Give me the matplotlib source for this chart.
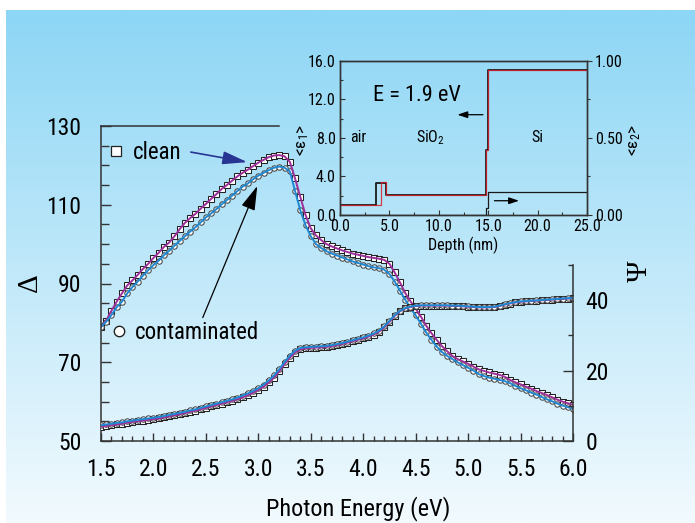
import numpy as np
import matplotlib
matplotlib.use("Agg")
import matplotlib.pyplot as plt
from matplotlib import font_manager
from matplotlib.lines import Line2D
from matplotlib.ticker import MultipleLocator, FixedLocator, FormatStrFormatter

# the original uses a narrow Helvetica; take a condensed face if one is installed
installed = {f.name for f in font_manager.fontManager.ttflist}
narrow = [n for n in ['Liberation Sans Narrow', 'Roboto Condensed', 'DejaVu Sans Condensed',
                      'Arial Narrow', 'Nimbus Sans Narrow'] if n in installed]
condensed_faces = [f.name for f in font_manager.fontManager.ttflist
                   if str(f.stretch) in ('condensed', 'semi-condensed', '62.5', '75', '87.5')]
if narrow:
    plt.rcParams['font.family'] = [narrow[0], 'DejaVu Sans']
    SCALE = 1.0
elif condensed_faces:
    plt.rcParams['font.family'] = [condensed_faces[0], 'DejaVu Sans']
    plt.rcParams['font.stretch'] = 'condensed'
    SCALE = 1.0
else:
    plt.rcParams['font.family'] = ['Roboto', 'Liberation Sans', 'DejaVu Sans']
    SCALE = 0.92
plt.rcParams['mathtext.default'] = 'regular'

# photon energy grid (eV), 0.05 eV steps
energy = np.linspace(1.5, 6.0, 91)

delta_clean = [
    79.0, 80.6, 83.1, 85.4, 87.5, 89.5, 90.8, 92.2, 93.7, 95.0,
    96.5, 97.8, 99.3, 100.4, 102.0, 103.8, 105.4, 106.6, 107.7, 109.0,
    110.2, 111.5, 112.7, 114.0, 115.0, 116.1, 117.2, 118.1, 118.9, 119.8,
    120.7, 121.4, 122.1, 122.5, 122.6, 122.3, 120.9, 116.7, 112.0, 107.4,
    104.0, 102.2, 101.0, 100.0, 99.4, 98.9, 98.4, 98.0, 97.6, 97.3,
    97.0, 96.7, 96.5, 96.3, 96.0, 95.0, 92.8, 90.3, 87.6, 85.5,
    83.6, 81.6, 79.3, 77.4, 75.7, 74.1, 72.8, 71.6, 70.8, 70.2,
    69.6, 68.9, 68.2, 67.8, 67.4, 67.1, 66.8, 66.3, 65.5, 64.9,
    64.4, 63.8, 63.3, 62.7, 62.2, 61.7, 61.1, 60.5, 60.0, 59.6,
    59.2]

delta_cont = [
    79.0, 80.3, 82.0, 84.0, 85.4, 87.5, 89.1, 90.5, 92.0, 93.4,
    94.7, 95.8, 97.2, 98.3, 99.6, 100.8, 102.0, 103.2, 104.3, 105.5,
    106.8, 107.8, 108.9, 110.1, 111.2, 112.3, 113.5, 114.6, 115.4, 116.5,
    117.4, 118.1, 118.8, 119.4, 119.7, 119.4, 118.5, 113.5, 108.6, 104.8,
    102.0, 100.0, 99.0, 98.2, 97.6, 97.1, 96.6, 96.1, 95.6, 95.2,
    94.8, 94.4, 94.1, 93.9, 93.5, 92.4, 90.5, 88.2, 85.9, 83.8,
    81.9, 79.8, 77.6, 75.7, 74.0, 72.6, 71.6, 70.8, 70.0, 69.3,
    68.6, 67.9, 67.0, 66.5, 66.1, 65.8, 65.5, 65.2, 64.7, 64.0,
    63.4, 62.9, 62.3, 61.8, 61.2, 60.6, 60.1, 59.5, 59.0, 58.6,
    58.2]

psi_clean = [
    4.1, 4.3, 4.5, 4.7, 4.9, 5.2, 5.4, 5.6, 5.8, 6.0,
    6.2, 6.4, 6.7, 7.0, 7.3, 7.6, 7.9, 8.3, 8.6, 9.0,
    9.4, 9.8, 10.2, 10.6, 11.0, 11.4, 11.8, 12.4, 13.0, 13.7,
    14.5, 15.4, 16.6, 18.0, 19.8, 21.8, 23.6, 25.1, 26.0, 26.3,
    26.4, 26.5, 26.6, 26.7, 26.9, 27.2, 27.5, 27.9, 28.3, 28.7,
    29.1, 29.6, 30.2, 31.0, 32.2, 33.8, 35.5, 36.8, 37.6, 38.0,
    38.3, 38.4, 38.4, 38.4, 38.4, 38.4, 38.4, 38.3, 38.3, 38.2,
    38.1, 38.0, 37.9, 37.9, 37.9, 38.0, 38.3, 38.7, 39.0, 39.3,
    39.5, 39.6, 39.7, 39.8, 39.9, 40.0, 40.1, 40.2, 40.3, 40.4,
    40.5]

psi_cont = [
    4.5, 4.7, 4.9, 5.1, 5.3, 5.6, 5.8, 6.0, 6.2, 6.4,
    6.6, 6.8, 7.1, 7.4, 7.7, 8.0, 8.3, 8.7, 9.0, 9.4,
    9.8, 10.2, 10.6, 11.0, 11.4, 11.8, 12.3, 12.9, 13.5, 14.2,
    15.0, 16.0, 17.2, 18.6, 20.4, 22.4, 24.2, 25.6, 26.4, 26.6,
    26.7, 26.8, 26.9, 27.0, 27.2, 27.5, 27.8, 28.2, 28.6, 29.0,
    29.4, 29.9, 30.5, 31.3, 32.5, 34.1, 35.7, 36.9, 37.7, 38.1,
    38.4, 38.5, 38.5, 38.5, 38.5, 38.5, 38.5, 38.4, 38.4, 38.3,
    38.2, 38.1, 38.0, 38.0, 38.0, 38.1, 38.4, 38.8, 39.1, 39.4,
    39.6, 39.7, 39.8, 39.9, 40.0, 40.1, 40.2, 40.3, 40.4, 40.5,
    40.6]

# inset: depth profile at E = 1.9 eV (step edges in nm)
depth_fit1 = [0.0, 3.6, 4.65, 14.8, 14.95, 25.0]
eps1_fit1 = [1.0, 3.3, 2.1, 6.7, 15.0, 15.0]
depth_fit2 = [0.0, 4.15, 4.65, 14.8, 14.95, 25.0]
eps1_fit2 = [1.0, 3.4, 2.1, 6.7, 15.0, 15.0]
depth_e2 = [0.0, 14.8, 14.95, 25.0]
eps2_prof = [0.0, 0.045, 0.151, 0.151]

delta_ticks = [50, 70, 90, 110, 130]
psi_ticks = [0, 20, 40]

MAGENTA = '#9c2f98'
BLUE = '#1f88d2'
SPINE = '#333333'
FS = 17 * SCALE
FS_IN = 11.5 * SCALE

fig = plt.figure(figsize=(6.95, 5.23), dpi=100)
fig.patch.set_facecolor('white')

# gradient backdrop
bg = fig.add_axes([6/695, 0, 1 - 6/695, 513/523], zorder=-5)
top_c = np.array([141, 214, 245]) / 255
bot_c = np.array([242, 250, 254]) / 255
t = np.linspace(0, 1, 256)[:, None, None]
grad = top_c * (1 - t) + bot_c * t
bg.imshow(np.repeat(grad, 4, axis=1), aspect='auto', extent=[0, 1, 0, 1])
bg.axis('off')

ax = fig.add_axes([101/695, 82/523, 472/695, 315/523])
ax.patch.set_alpha(0)
ax2 = ax.twinx()
ax2.patch.set_alpha(0)

mk = dict(linestyle='none', mfc='white', mew=0.75)
ax.plot(energy, delta_clean, marker='s', ms=4.1, mec='#222222', **mk)
ax.plot(energy, delta_cont, marker='o', ms=3.9, mec='#444444', **mk)
ax.plot(energy, delta_clean, color=MAGENTA, lw=1.4)
ax.plot(energy, delta_cont, color=BLUE, lw=1.4)
ax2.plot(energy, psi_clean, marker='s', ms=4.1, mec='#222222', **mk)
ax2.plot(energy, psi_cont, marker='o', ms=3.9, mec='#444444', **mk)
ax2.plot(energy, psi_clean, color=MAGENTA, lw=1.4)
ax2.plot(energy, psi_cont, color=BLUE, lw=1.4)

ax.set_xlim(1.5, 6.0)
ax.set_ylim(50, 130)
ax2.set_ylim(0, 315 / 3.525)

for a in (ax, ax2):
    for s in a.spines.values():
        s.set_color(SPINE)
        s.set_linewidth(1.1)
ax.spines['right'].set_visible(False)
ax.spines['top'].set_bounds(1.5, 3.2)
ax2.spines['top'].set_visible(False)
ax2.spines['left'].set_visible(False)
ax2.spines['bottom'].set_visible(False)
ax2.spines['right'].set_bounds(0, 50)

ax.xaxis.set_major_locator(MultipleLocator(0.5))
ax.xaxis.set_minor_locator(MultipleLocator(0.1))
ax.xaxis.set_major_formatter(FormatStrFormatter('%.1f'))
ax.yaxis.set_major_locator(FixedLocator(delta_ticks))
ax.yaxis.set_minor_locator(MultipleLocator(5))
ax.tick_params(axis='x', which='major', direction='in', length=6, width=1, color=SPINE,
               labelsize=FS, pad=12, top=False)
ax.tick_params(axis='x', which='minor', direction='in', length=3.5, width=1, color=SPINE, top=False)
ax.tick_params(axis='y', which='major', direction='in', length=7, width=1, color=SPINE,
               labelsize=FS, pad=14, right=False)
ax.tick_params(axis='y', which='minor', direction='in', length=5.5, width=1, color=SPINE, right=False)

ax2.yaxis.set_major_locator(FixedLocator(psi_ticks))
ax2.set_yticks([10, 30, 50], minor=True)
ax2.tick_params(axis='y', which='major', direction='in', length=7, width=1, color=SPINE,
                labelsize=FS, pad=9)
ax2.tick_params(axis='y', which='minor', direction='in', length=3.6, width=1, color=SPINE)

# point legends
h_clean = Line2D([], [], marker='s', ls='none', ms=6.5, mfc='white', mec='#222222', mew=0.9)
h_cont = Line2D([], [], marker='o', ls='none', ms=7.5, mfc='white', mec='#222222', mew=1.0)
leg_kw = dict(frameon=False, fontsize=16.5 * SCALE, handlelength=0.6, handletextpad=0.4,
              borderpad=0, borderaxespad=0, loc='center left')
leg1 = ax.legend([h_clean], ['clean'], bbox_to_anchor=(0.018, 0.915), **leg_kw)
ax.add_artist(leg1)
ax.legend([h_cont], ['contaminated'], bbox_to_anchor=(0.024, 0.345), **leg_kw)

ax.annotate('', xy=(2.92, 120.7), xytext=(2.33, 123.5),
            arrowprops=dict(arrowstyle='-|>,head_length=0.75,head_width=0.2',
                            color='#283593', lw=1.2, mutation_scale=20))
ax.annotate('', xy=(3.0, 115.4), xytext=(2.46, 80.7),
            arrowprops=dict(arrowstyle='-|>,head_length=0.75,head_width=0.22',
                            color='black', lw=0.9, mutation_scale=20))

fig.text(358/695, 14/523, 'Photon Energy (eV)', fontsize=17.5 * SCALE, ha='center', va='center')
fig.text(30/695, 240/523, 'Δ', fontsize=21, rotation=90, ha='center', va='center',
         family=['Liberation Serif', 'DejaVu Serif'])
fig.text(640/695, 252/523, 'Ψ', fontsize=21, rotation=90, ha='center', va='center',
         family=['Liberation Serif', 'DejaVu Serif'])

# inset
axi = fig.add_axes([340/695, 308/523, 247/695, 154.3/523])
axi.patch.set_alpha(0)
axi2 = axi.twinx()
axi2.patch.set_alpha(0)

axi.plot(depth_fit1, eps1_fit1, drawstyle='steps-post', color='#1a1a1a', lw=1.3)
axi.plot(depth_fit2, eps1_fit2, drawstyle='steps-post', color='#d8202a', lw=0.9, alpha=0.85)
axi2.plot(depth_e2, eps2_prof, drawstyle='steps-post', color='#1a1a1a', lw=0.9)

axi.set_xlim(0, 25)
axi.set_ylim(0, 16)
axi2.set_ylim(0, 1)
for a in (axi, axi2):
    for s in a.spines.values():
        s.set_color(SPINE)
        s.set_linewidth(1.0)

axi.xaxis.set_major_locator(MultipleLocator(5))
axi.xaxis.set_minor_locator(MultipleLocator(2.5))
axi.xaxis.set_major_formatter(FormatStrFormatter('%.1f'))
axi.yaxis.set_major_locator(MultipleLocator(4))
axi.yaxis.set_minor_locator(MultipleLocator(2))
axi.yaxis.set_major_formatter(FormatStrFormatter('%.1f'))
axi.tick_params(which='major', direction='in', length=3.5, width=0.8, color=SPINE,
                labelsize=FS_IN, pad=3, top=False, right=False)
axi.tick_params(which='minor', direction='in', length=2.5, width=0.8, color=SPINE,
                top=False, right=False)
axi2.yaxis.set_major_locator(MultipleLocator(0.5))
axi2.yaxis.set_minor_locator(MultipleLocator(0.25))
axi2.yaxis.set_major_formatter(FormatStrFormatter('%.2f'))
axi2.tick_params(axis='y', which='major', direction='out', length=3.5, width=0.8, color=SPINE,
                 labelsize=FS_IN, pad=2)
axi2.tick_params(axis='y', which='minor', direction='out', length=2, width=0.8, color=SPINE)

axi.set_xlabel('Depth (nm)', fontsize=FS_IN, labelpad=2)

axi.text(3.3, 12.4, 'E = 1.9 eV', fontsize=16 * SCALE, ha='left', va='center')
axi.text(1.8, 8.0, 'air', fontsize=11.5 * SCALE, ha='center', va='center')
axi.text(9.2, 8.0, 'SiO$_2$', fontsize=11.5 * SCALE, ha='center', va='center')
axi.text(20.0, 8.0, 'Si', fontsize=11.5 * SCALE, ha='center', va='center')
axi.annotate('', xy=(11.6, 10.4), xytext=(14.75, 10.4),
             arrowprops=dict(arrowstyle='-|>,head_length=0.6,head_width=0.2',
                             color='black', lw=0.9, mutation_scale=10))
axi.annotate('', xy=(18.4, 1.48), xytext=(15.35, 1.48),
             arrowprops=dict(arrowstyle='-|>,head_length=0.6,head_width=0.2',
                             color='black', lw=0.9, mutation_scale=10))

fig.text(303/695, 383/523, '<ε$_1$>', fontsize=12.5, rotation=90, ha='center', va='center')
fig.text(635/695, 383/523, '<ε$_2$>', fontsize=12.5, rotation=90, ha='center', va='center')

fig.savefig('out.png', dpi=100, facecolor=fig.get_facecolor())
